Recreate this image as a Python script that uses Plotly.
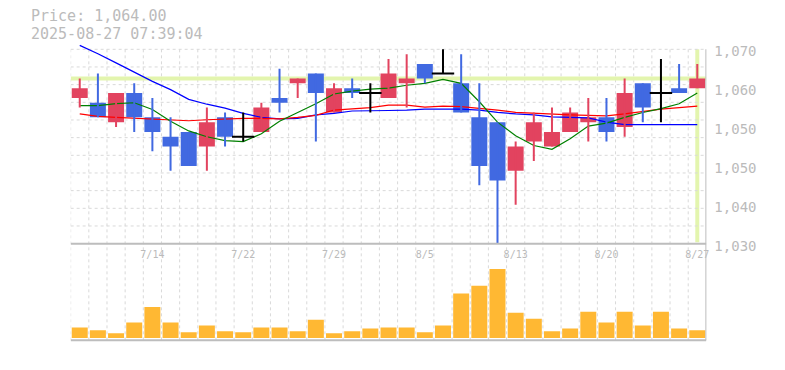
import plotly.graph_objects as go

# ---------------- data ----------------
dates = ["7/8", "7/9", "7/10", "7/11", "7/14", "7/15", "7/16", "7/17", "7/18",
         "7/22", "7/23", "7/24", "7/25", "7/28", "7/29", "7/30", "7/31", "8/1",
         "8/4", "8/5", "8/6", "8/7", "8/8", "8/12", "8/13", "8/14", "8/15",
         "8/18", "8/19", "8/20", "8/21", "8/22", "8/25", "8/26", "8/27"]

opens = [1060, 1059, 1055, 1061, 1056, 1052, 1053, 1050, 1056, 1052, 1053, 1060,
         1063, 1065, 1057, 1062, 1061, 1060, 1063, 1067, 1065, 1063, 1056, 1055,
         1045, 1051, 1050, 1053, 1055, 1056, 1054, 1063, 1061, 1062, 1062]
highs = [1064, 1065, 1061, 1063, 1060, 1056, 1053, 1058, 1057, 1057, 1059, 1066,
         1064, 1065, 1063, 1064, 1063, 1068, 1069, 1067, 1070, 1069, 1063, 1055,
         1051, 1057, 1058, 1058, 1060, 1060, 1064, 1063, 1068, 1067, 1067]
lows = [1058, 1056, 1054, 1053, 1049, 1045, 1046, 1045, 1050, 1051, 1053, 1057,
        1060, 1051, 1057, 1060, 1057, 1060, 1058, 1063, 1065, 1057, 1042, 1030,
        1038, 1047, 1050, 1053, 1051, 1051, 1052, 1055, 1055, 1061, 1062]
closes = [1062, 1056, 1061, 1056, 1053, 1050, 1046, 1055, 1052, 1052, 1058, 1059,
          1064, 1061, 1062, 1061, 1061, 1065, 1064, 1064, 1065, 1057, 1046, 1043,
          1050, 1055, 1053, 1057, 1056, 1053, 1061, 1058, 1061, 1061, 1064]

ma_short = [1058.4, 1058.4, 1058.8, 1059.0, 1057.6, 1055.2, 1053.2, 1052.0, 1051.2,
            1051.0, 1052.6, 1055.2, 1057.0, 1058.8, 1060.8, 1061.4, 1061.8, 1062.0,
            1062.6, 1063.0, 1063.8, 1063.0, 1059.2, 1055.0, 1052.2, 1050.2, 1049.4,
            1051.6, 1054.2, 1054.8, 1056.0, 1057.0, 1057.8, 1058.8, 1061.0]
ma_mid = [1056.7, 1056.2, 1056.0, 1055.8, 1055.7, 1055.5, 1055.3, 1055.5, 1055.7,
          1055.8, 1055.8, 1055.7, 1056.0, 1056.4, 1057.5, 1057.7, 1058.0, 1058.5,
          1058.5, 1058.1, 1058.3, 1058.2, 1057.9, 1057.5, 1057.0, 1056.8, 1056.7,
          1056.5, 1056.4, 1056.3, 1056.7, 1057.2, 1057.7, 1058.0, 1058.3]
ma_long = [1070.8, 1069.1, 1067.2, 1065.3, 1063.4, 1061.7, 1059.7, 1058.7, 1057.9,
           1056.8, 1056.0, 1055.7, 1055.8, 1056.5, 1056.8, 1057.3, 1057.3, 1057.4,
           1057.5, 1057.7, 1057.7, 1057.7, 1057.5, 1057.0, 1056.7, 1056.5, 1056.1,
           1056.0, 1055.9, 1055.0, 1054.5, 1054.5, 1054.5, 1054.4, 1054.5]

volumes = [11000, 8000, 5000, 16000, 32000, 16000, 6000, 13000, 7000, 6000, 11000,
           11000, 7000, 19000, 5000, 7000, 10000, 11000, 11000, 6000, 13000, 46000,
           54000, 71000, 26000, 20000, 7000, 10000, 27000, 16000, 27000, 13000,
           27000, 10000, 8000]

price_ticks = [1070, 1062, 1054, 1046, 1038, 1030]
price_tick_text = ["1,070", "1,060", "1,050", "1,050", "1,040", "1,030"]
date_tick_labels = ["7/14", "7/22", "7/29", "8/5", "8/13", "8/20", "8/27"]
current_price = 1064
title_lines = ["Price: 1,064.00", "2025-08-27 07:39:04"]

# ---------------- colours / layout constants ----------------
UP = "#e2435f"
DOWN = "#4169e1"
DOJI = "#000000"
VOL = "#ffb833"
GRID = "#d9d9d9"
BORDER = "#bdbdbd"
HILITE = "#e3f5ae"
TEXT = "#bbbbbb"
FONT = "DejaVu Sans Mono"

# the page body keeps its default 8px margin on every side, so the figure is
# made 16px smaller than the window and all pixel positions are offset by 8px
OFF = 8
W, H = 785 - 2 * OFF, 370 - 2 * OFF
def fx(px):
    return (px - OFF) / W
def fy(py):
    return 1 - (py - OFF) / H

n = len(dates)
xs = list(range(n))
x_left, x_right = 70.9, 709.1
price_top_px, price_bot_px = 43.5, 250.5
vol_top_px, vol_bot_px = 250.5, 350.0

fig = go.Figure()

# moving averages (below candles)
fig.add_trace(go.Scatter(x=xs, y=ma_long, mode="lines", line=dict(color="#0000ff", width=1.2),
                         hoverinfo="skip", xaxis="x", yaxis="y"))
fig.add_trace(go.Scatter(x=xs, y=ma_mid, mode="lines", line=dict(color="#ff0000", width=1.2),
                         hoverinfo="skip", xaxis="x", yaxis="y"))
fig.add_trace(go.Scatter(x=xs, y=ma_short, mode="lines", line=dict(color="#008000", width=1.2),
                         hoverinfo="skip", xaxis="x", yaxis="y"))

# wicks
def kind(i):
    if closes[i] > opens[i]:
        return "up"
    if closes[i] < opens[i]:
        return "down"
    return "doji"

for k, col in (("up", UP), ("down", DOWN), ("doji", DOJI)):
    wx, wy = [], []
    for i in xs:
        if kind(i) == k:
            wx += [i, i, None]
            wy += [lows[i], highs[i], None]
    fig.add_trace(go.Scatter(x=wx, y=wy, mode="lines", line=dict(color=col, width=2),
                             hoverinfo="skip", xaxis="x", yaxis="y"))

# bodies
for k, col in (("up", UP), ("down", DOWN)):
    idx = [i for i in xs if kind(i) == k]
    fig.add_trace(go.Bar(
        x=idx,
        y=[abs(closes[i] - opens[i]) for i in idx],
        base=[min(opens[i], closes[i]) for i in idx],
        width=0.88, marker=dict(color=col, line=dict(width=0)),
        hoverinfo="skip", xaxis="x", yaxis="y"))

doji_idx = [i for i in xs if kind(i) == "doji"]
fig.add_trace(go.Scatter(
    x=doji_idx, y=[closes[i] for i in doji_idx], mode="markers",
    marker=dict(symbol="line-ew", size=16, line=dict(color=DOJI, width=2)),
    hoverinfo="skip", xaxis="x", yaxis="y"))

# volume
fig.add_trace(go.Bar(x=xs, y=volumes, width=0.88, marker=dict(color=VOL, line=dict(width=0)),
                     hoverinfo="skip", xaxis="x2", yaxis="y2"))

# ---------------- shapes ----------------
shapes = []
for i in range(n):
    shapes.append(dict(type="line", xref="x", yref="paper", x0=i - 0.5, x1=i - 0.5,
                       y0=fy(vol_bot_px), y1=fy(50.5), layer="below",
                       line=dict(color=GRID, width=1, dash="3px,3px")))
lo, hi = price_ticks[-1], price_ticks[0]
for k in range(1, 12):
    yv = lo + k * (hi - lo) / 11
    shapes.append(dict(type="line", xref="x", yref="y", x0=-0.5, x1=n - 0.5, y0=yv, y1=yv,
                       layer="below", line=dict(color=GRID, width=1, dash="3px,3px")))
# current price band and last-day band
shapes.append(dict(type="line", xref="x", yref="y", x0=-0.5, x1=n - 0.5,
                   y0=current_price, y1=current_price, layer="below",
                   line=dict(color=HILITE, width=4)))
shapes.append(dict(type="line", xref="x", yref="paper", x0=n - 1, x1=n - 1,
                   y0=fy(249), y1=fy(50.5), layer="below",
                   line=dict(color=HILITE, width=4)))
# borders
shapes.append(dict(type="line", xref="x", yref="paper", x0=-0.5, x1=n - 0.5,
                   y0=fy(price_bot_px), y1=fy(price_bot_px), layer="above",
                   line=dict(color=BORDER, width=2)))
shapes.append(dict(type="line", xref="x", yref="paper", x0=-0.5, x1=n - 0.5,
                   y0=fy(vol_bot_px), y1=fy(vol_bot_px), layer="above",
                   line=dict(color=BORDER, width=2)))
shapes.append(dict(type="line", xref="x", yref="paper", x0=n - 0.5, x1=n - 0.5,
                   y0=fy(vol_bot_px), y1=fy(50.5), layer="above",
                   line=dict(color=BORDER, width=2)))

annotations = [
    dict(text=title_lines[0], xref="paper", yref="paper", x=fx(29.5), y=fy(16.6),
         xanchor="left", yanchor="middle", showarrow=False,
         font=dict(family=FONT, size=15, color=TEXT)),
    dict(text=title_lines[1], xref="paper", yref="paper", x=fx(29.5), y=fy(34.3),
         xanchor="left", yanchor="middle", showarrow=False,
         font=dict(family=FONT, size=15, color=TEXT)),
]

fig.update_layout(
    width=W, height=H, margin=dict(l=0, r=0, t=0, b=0),
    paper_bgcolor="white", plot_bgcolor="white",
    showlegend=False, barmode="overlay",
    shapes=shapes, annotations=annotations,
    xaxis=dict(domain=[fx(x_left), fx(x_right)], range=[-0.5, n - 0.5], anchor="y",
               showgrid=False, zeroline=False, showline=False, ticks="",
               tickvals=[dates.index(d) for d in date_tick_labels], ticktext=date_tick_labels,
               tickfont=dict(family=FONT, size=10, color=TEXT), ticklabelstandoff=3),
    xaxis2=dict(domain=[fx(x_left), fx(x_right)], range=[-0.5, n - 0.5], anchor="y2",
                matches="x", showgrid=False, zeroline=False, showline=False,
                showticklabels=False, ticks=""),
    yaxis=dict(domain=[fy(price_bot_px), fy(price_top_px)],
               range=[lo, lo + (price_bot_px - price_top_px) / 5.0], anchor="x", side="right",
               showgrid=False, zeroline=False, showline=False, ticks="",
               tickvals=price_ticks, ticktext=price_tick_text,
               tickfont=dict(family=FONT, size=14, color=TEXT),
               ticklabelstandoff=7, ticklabelshift=2),
    yaxis2=dict(domain=[fy(vol_bot_px), fy(vol_top_px)],
                range=[-2300, -2300 + (vol_bot_px - vol_top_px) * 1000], anchor="x2",
                visible=False),
)

fig.write_html("out.html")
